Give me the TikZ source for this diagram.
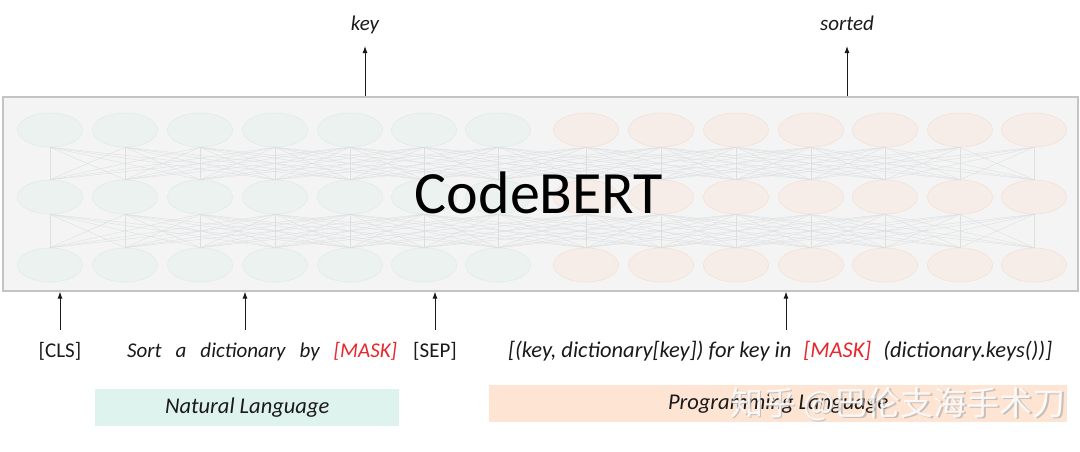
\documentclass[tikz,border=0pt]{standalone}
\usepackage{fontspec}
\setmainfont{Carlito}
\newfontfamily\cjk{Noto Sans CJK SC}
\usetikzlibrary{shapes.geometric,arrows.meta}
\definecolor{boxfill}{HTML}{F4F4F4}
\definecolor{boxline}{HTML}{C4C4C4}
\definecolor{gfill}{HTML}{ECF2F0}
\definecolor{gline}{HTML}{E0ECE8}
\definecolor{ofill}{HTML}{F6EDE8}
\definecolor{oline}{HTML}{F2E2D6}
\definecolor{connc}{HTML}{DCDFE2}
\definecolor{maskred}{HTML}{E8262B}
\definecolor{nlfill}{HTML}{DEF3EE}
\definecolor{plfill}{HTML}{FDE4D3}
\definecolor{txt}{HTML}{1A1A1A}
\tikzset{
  neuron/.style={ellipse, minimum width=65pt, minimum height=34pt, inner sep=0pt, line width=0.6pt},
  gneuron/.style={neuron, fill=gfill, draw=gline},
  oneuron/.style={neuron, fill=ofill, draw=oline},
  conn/.style={draw=connc, line width=0.4pt},
  arr/.style={-{Latex[length=7pt,width=5pt]}, line width=0.9pt, draw=txt},
  tok/.style={font=\fontsize{21}{24}\selectfont, text=txt, inner sep=0pt},
  lang/.style={font=\fontsize{22.5}{24}\selectfont\itshape, text=txt, inner sep=0pt, minimum height=37pt},
}
\begin{document}
\begin{tikzpicture}[x=1pt,y=-1pt]
\useasboundingbox[fill=white] (0,0) rectangle (1080,451);
% model box
\node[draw=boxline, fill=boxfill, line width=1.6pt, minimum width=1075pt, minimum height=194pt, anchor=north west, inner sep=0pt] (model) at (2,96) {};
% neurons
\foreach \x [count=\i] in {50,125,200,275,350,424,498} {
  \foreach \y [count=\j] in {130,197,265} {
    \node[gneuron] (n\j-\i) at (\x,\y) {};
  }
}
\foreach \x [count=\i from 8] in {586,661,736,811,885,960,1034} {
  \foreach \y [count=\j] in {130,197,265} {
    \node[oneuron] (n\j-\i) at (\x,\y) {};
  }
}
% connections (each neuron to its neighbours in the next layer)
\foreach \i in {1,...,14} {
  \foreach \k in {1,...,14} {
    \pgfmathtruncatemacro{\dd}{abs(\i-\k)}
    \ifnum\dd<5
      \draw[conn] (n1-\i.south) -- (n2-\k.north);
      \draw[conn] (n2-\i.south) -- (n3-\k.north);
    \fi
  }
}
% title
\node[anchor=base, font=\fontsize{60}{60}\selectfont, text=black, inner sep=0pt] (title) at (539,213) {CodeBERT};
% outputs
\node[anchor=base, font=\fontsize{21}{24}\selectfont\itshape, text=txt, inner sep=0pt] (key) at (365,30) {key};
\node[anchor=base, font=\fontsize{21}{24}\selectfont\itshape, text=txt, inner sep=0pt] (sorted) at (847,30) {sorted};
\coordinate (keytip) at (365,46);
\coordinate (sortedtip) at (847,46);
\draw[arr] (model.north -| keytip) -- (keytip);
\draw[arr] (model.north -| sortedtip) -- (sortedtip);
% inputs
\node[tok, anchor=base] (cls) at (60,357) {[CLS]};
\node[tok, anchor=base west, font=\fontsize{21}{24}\selectfont\itshape] (nltext) at (127,357) {Sort\hspace{14pt}a\hspace{14pt}dictionary\hspace{14pt}by\hspace{14pt}\textcolor{maskred}{[MASK]}};
\node[tok, anchor=base] (sep) at (435,357) {[SEP]};
\node[tok, anchor=base west, font=\fontsize{22.5}{24}\selectfont\itshape] (pltext) at (508,357) {[(key, dictionary[key]) for key in\hspace{12pt}\textcolor{maskred}{[MASK]}\hspace{12pt}(dictionary.keys())]};
\coordinate (t1) at (60,330);
\coordinate (t2) at (245,330);
\coordinate (t3) at (435,330);
\coordinate (t4) at (786,330);
\foreach \t in {t1,t2,t3,t4} {
  \draw[arr] (\t) -- (\t |- model.south);
}
% language boxes
\node[lang, fill=nlfill, minimum width=304pt, anchor=north west] (nl) at (95,389) {Natural Language};
\node[lang, fill=plfill, minimum width=578pt, anchor=north west] (pl) at (489,385) {Programming Language};
% watermark
\node[font=\cjk\fontsize{33}{36}\selectfont, text=gray!70, opacity=0.6] (wm0) at (899.2,405.2) {知乎 @巴伦支海手术刀};
\node[font=\cjk\fontsize{33}{36}\selectfont, text=white, opacity=0.85] (wm) at (898,404) {知乎 @巴伦支海手术刀};
\end{tikzpicture}
\end{document}
